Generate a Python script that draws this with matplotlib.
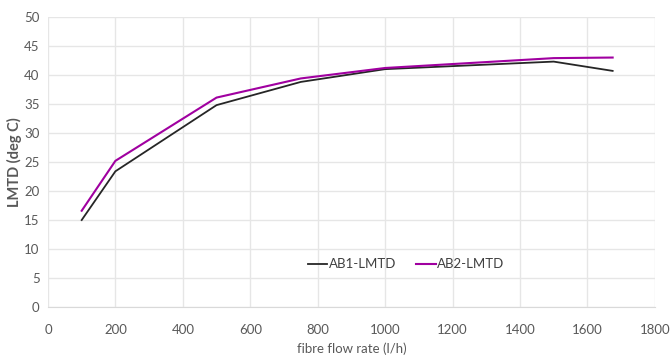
import matplotlib.pyplot as plt

# Data
FLOW_RATE = [100, 200, 500, 750, 1000, 1500, 1675]
AB1_LMTD = [15.0, 23.4, 34.8, 38.8, 41.0, 42.3, 40.7]
AB2_LMTD = [16.6, 25.2, 36.1, 39.4, 41.2, 42.9, 43.0]

X_TICKS = [0, 200, 400, 600, 800, 1000, 1200, 1400, 1600, 1800]
Y_TICKS = [0, 5, 10, 15, 20, 25, 30, 35, 40, 45, 50]

plt.rcParams['font.family'] = ['Lato', 'DejaVu Sans']

fig = plt.figure(figsize=(6.72, 3.6), dpi=100)
ax = fig.add_axes([0.0714, 0.147, 0.903, 0.806])

ax.plot(FLOW_RATE, AB1_LMTD, color='#262626', linewidth=1.3, label='AB1-LMTD')
ax.plot(FLOW_RATE, AB2_LMTD, color='#a000a0', linewidth=1.5, label='AB2-LMTD')

ax.set_xlim(0, 1800)
ax.set_ylim(0, 50)
ax.set_xticks(X_TICKS)
ax.set_yticks(Y_TICKS)
ax.grid(True, color='#e6e6e6', linewidth=1)
ax.set_axisbelow(True)
for side in ['top', 'right', 'left']:
    ax.spines[side].set_visible(False)
ax.spines['bottom'].set_color('#d9d9d9')
ax.tick_params(length=0, labelsize=9.5, labelcolor='#595959')
ax.tick_params(axis='x', pad=12)
ax.tick_params(axis='y', pad=6)

ax.set_xlabel('fibre flow rate (l/h)', fontsize=9.5, color='#595959',
              labelpad=5)
ax.set_ylabel('LMTD (deg C)', fontsize=10.5, color='#595959',
              fontweight='bold')
ax.yaxis.set_label_coords(-0.042, 0.5)

ax.legend(loc='center', bbox_to_anchor=(0.59, 0.148), ncol=2, frameon=False,
          fontsize=9.5, handlelength=1.5, handletextpad=0.1, columnspacing=1.5,
          labelcolor='#404040')

fig.savefig('out.png', dpi=100)
